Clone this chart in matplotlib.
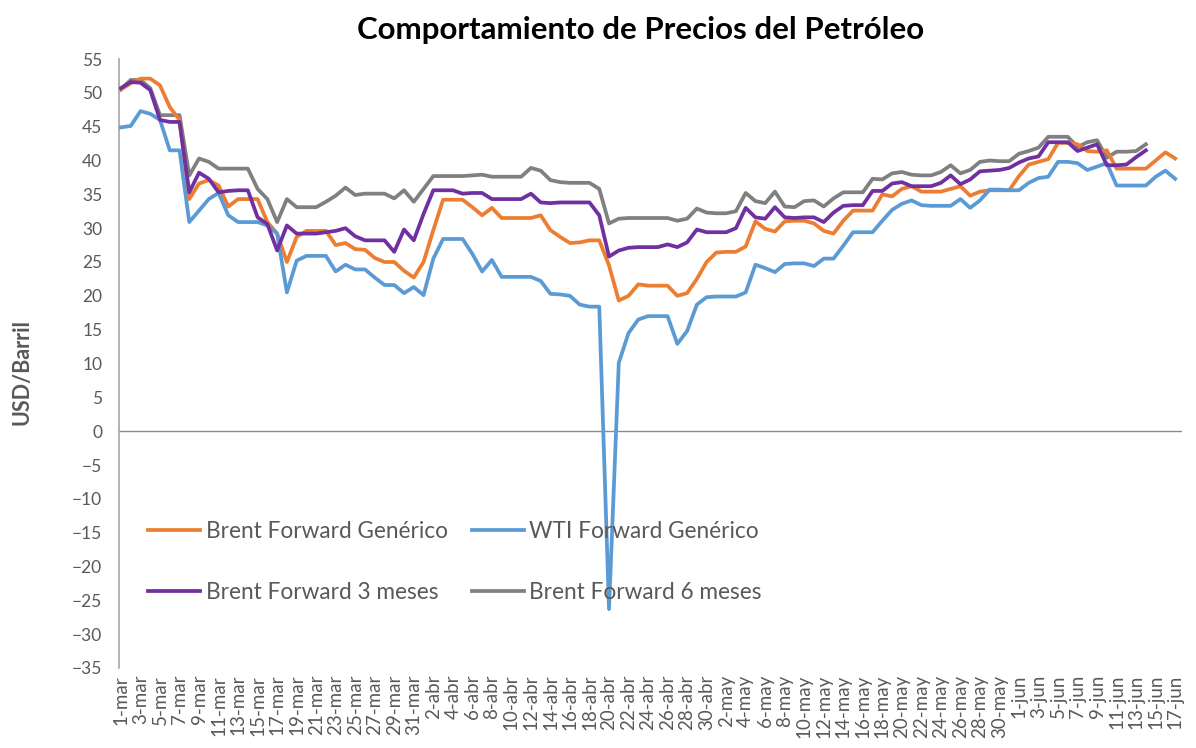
import numpy as np
import pandas as pd
import matplotlib
matplotlib.use('Agg')
import matplotlib.pyplot as plt

plt.rcParams['font.family'] = ['Lato', 'DejaVu Sans']

# daily values from 1-mar to 17-jun (calendar days)
start_date = '2020-03-01'
end_date = '2020-06-17'
month_es = {3: 'mar', 4: 'abr', 5: 'may', 6: 'jun'}

brent_generico = [
    50.5, 51.4, 52.1, 52.1, 51.1, 47.9, 46.0, 34.3, 36.6, 37.1, 36.3, 33.2, 34.3, 34.3, 34.3, 30.9,
    29.2, 25.0, 28.7, 29.6, 29.6, 29.6, 27.5, 27.8, 26.9, 26.8, 25.6, 25.0, 25.0, 23.7, 22.7, 25.0,
    29.7, 34.2, 34.2, 34.2, 33.1, 31.9, 33.0, 31.5, 31.5, 31.5, 31.5, 31.9, 29.7, 28.7, 27.8, 27.9,
    28.2, 28.2, 24.5, 19.3, 20.0, 21.7, 21.5, 21.5, 21.5, 20.0, 20.4, 22.5, 25.0, 26.4, 26.5, 26.5,
    27.3, 31.0, 29.9, 29.5, 31.0, 31.1, 31.1, 30.7, 29.6, 29.2, 31.1, 32.6, 32.6, 32.6, 35.0, 34.7,
    35.8, 36.2, 35.4, 35.4, 35.4, 35.8, 36.2, 34.8, 35.4, 35.6, 35.6, 35.6, 37.7, 39.4, 39.8, 40.2,
    42.6, 42.6, 42.4, 41.4, 41.3, 41.5, 38.8, 38.8, 38.8, 38.8, 40.0, 41.2, 40.3]

wti_generico = [
    44.9, 45.1, 47.3, 46.9, 46.0, 41.5, 41.5, 30.9, 32.6, 34.3, 35.2, 31.9, 30.9, 30.9, 30.9, 30.4,
    29.2, 20.5, 25.2, 25.9, 25.9, 25.9, 23.6, 24.6, 23.9, 23.9, 22.7, 21.6, 21.6, 20.4, 21.3, 20.1,
    25.5, 28.4, 28.4, 28.4, 26.2, 23.6, 25.3, 22.8, 22.8, 22.8, 22.8, 22.2, 20.3, 20.2, 20.0, 18.7,
    18.4, 18.4, -26.3, 10.1, 14.5, 16.5, 17.0, 17.0, 17.0, 12.9, 14.8, 18.7, 19.8, 19.9, 19.9, 19.9,
    20.5, 24.6, 24.1, 23.5, 24.7, 24.8, 24.8, 24.4, 25.5, 25.5, 27.4, 29.4, 29.4, 29.4, 31.1, 32.7,
    33.6, 34.1, 33.4, 33.3, 33.3, 33.3, 34.3, 33.0, 34.1, 35.7, 35.7, 35.6, 35.6, 36.7, 37.4, 37.6,
    39.8, 39.8, 39.6, 38.6, 39.1, 39.6, 36.3, 36.3, 36.3, 36.3, 37.6, 38.5, 37.3]

brent_3m = [
    50.7, 51.6, 51.5, 50.4, 46.0, 45.7, 45.7, 35.3, 38.2, 37.3, 35.3, 35.5, 35.6, 35.6, 31.6, 30.6,
    26.7, 30.4, 29.2, 29.2, 29.2, 29.4, 29.6, 30.0, 28.8, 28.2, 28.2, 28.2, 26.5, 29.8, 28.2, 32.1,
    35.6, 35.6, 35.6, 35.1, 35.2, 35.2, 34.3, 34.3, 34.3, 34.3, 35.1, 33.8, 33.7, 33.8, 33.8, 33.8,
    33.8, 31.9, 25.8, 26.7, 27.1, 27.2, 27.2, 27.2, 27.6, 27.2, 27.9, 29.8, 29.4, 29.4, 29.4, 30.0,
    33.0, 31.6, 31.4, 33.1, 31.6, 31.5, 31.6, 31.6, 30.9, 32.3, 33.3, 33.4, 33.4, 35.5, 35.5, 36.6,
    36.8, 36.2, 36.2, 36.2, 36.7, 37.8, 36.5, 37.2, 38.4, 38.5, 38.6, 38.9, 39.7, 40.3, 40.6, 42.7,
    42.7, 42.7, 41.4, 41.9, 42.4, 39.3, 39.3, 39.4, 40.5, 41.5]

brent_6m = [
    50.5, 51.9, 51.9, 50.7, 46.7, 46.7, 46.7, 37.8, 40.3, 39.8, 38.8, 38.8, 38.8, 38.8, 35.8, 34.3,
    30.9, 34.3, 33.1, 33.1, 33.1, 33.9, 34.8, 36.0, 34.9, 35.1, 35.1, 35.1, 34.4, 35.6, 33.9, 35.8,
    37.7, 37.7, 37.7, 37.7, 37.8, 37.9, 37.6, 37.6, 37.6, 37.6, 38.9, 38.5, 37.1, 36.8, 36.7, 36.7,
    36.7, 35.8, 30.7, 31.4, 31.5, 31.5, 31.5, 31.5, 31.5, 31.1, 31.4, 32.9, 32.3, 32.2, 32.2, 32.5,
    35.2, 34.0, 33.7, 35.4, 33.2, 33.1, 34.0, 34.1, 33.2, 34.4, 35.3, 35.3, 35.3, 37.3, 37.2, 38.1,
    38.3, 37.9, 37.8, 37.8, 38.3, 39.3, 38.1, 38.6, 39.8, 40.0, 39.9, 39.9, 41.0, 41.4, 41.9, 43.5,
    43.5, 43.5, 42.0, 42.7, 43.0, 40.4, 41.3, 41.3, 41.4, 42.4]

dates = pd.date_range(start_date, end_date, freq='D')
days = np.arange(len(dates))
tick_days = days[::2]
tick_labels = ['%d-%s' % (d.day, month_es[d.month]) for d in dates[::2]]

fig = plt.figure(figsize=(11.96, 7.48), dpi=100)
ax = fig.add_axes([119 / 1196, 1 - 668 / 748, (1182 - 119) / 1196, (668 - 59) / 748])

lw = 2.7
l_brent, = ax.plot(days[:len(brent_generico)], brent_generico, color='#ED7D31', lw=lw,
                   label='Brent Forward Genérico', zorder=3)
l_wti, = ax.plot(days[:len(wti_generico)], wti_generico, color='#5B9BD5', lw=lw,
                 label='WTI Forward Genérico', zorder=3)
l_3m, = ax.plot(days[:len(brent_3m)], brent_3m, color='#7030A0', lw=lw,
                label='Brent Forward 3 meses', zorder=4)
l_6m, = ax.plot(days[:len(brent_6m)], brent_6m, color='#808080', lw=lw,
                label='Brent Forward 6 meses', zorder=2)

ax.axhline(0, color='#8c8c8c', lw=1, zorder=1)
ax.set_xlim(-0.2, 108.7)
ax.set_ylim(-35, 55)
ax.set_yticks(np.arange(-35, 56, 5))
ax.set_xticks(tick_days)
ax.set_xticklabels(tick_labels, rotation=90, va='top', ha='center')

for s in ['top', 'right', 'bottom']:
    ax.spines[s].set_visible(False)
ax.spines['left'].set_color('#a6a6a6')
ax.spines['left'].set_linewidth(1.2)
ax.tick_params(axis='both', length=0, labelcolor='#595959')
ax.tick_params(axis='y', pad=12, labelsize=12.5)
ax.tick_params(axis='x', pad=5, labelsize=13.5)

fig.text(22 / 1196, 1 - 372 / 748, 'USD/Barril', rotation=90, ha='center', va='center',
         fontsize=15.5, fontweight='bold', color='#595959')
fig.text(641 / 1196, 1 - 30 / 748, 'Comportamiento de Precios del Petróleo', ha='center', va='center',
         fontsize=22.5, fontweight='bold', color='black')

# row order in the legend: Brent / WTI, then 3 meses / 6 meses
leg = ax.legend([l_brent, l_3m, l_wti, l_6m],
                [l_brent.get_label(), l_3m.get_label(), l_wti.get_label(), l_6m.get_label()],
                loc='upper left', bbox_to_anchor=((148 - 119) / 1063, 1 - (521 - 59) / 609),
                ncol=2, frameon=False, fontsize=16.3, handlelength=2.3, handletextpad=0.25,
                columnspacing=1.05, labelspacing=1.75, borderpad=0, borderaxespad=0)
for t in leg.get_texts():
    t.set_color('#595959')

fig.savefig('out.png', dpi=100)
